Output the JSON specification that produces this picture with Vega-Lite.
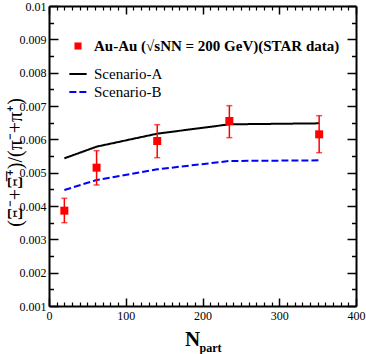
{
  "$schema": "https://vega.github.io/schema/vega-lite/v6.json",
  "width": 307,
  "height": 300,
  "autosize": {"type": "none"},
  "padding": {"left": 49, "top": 6, "right": 10, "bottom": 48},
  "background": "white",
  "config": {
    "view": {"stroke": null},
    "font": "Liberation Serif",
    "legend": {"labelFont": "Liberation Serif", "padding": 0},
    "axis": {
      "grid": false,
      "domainColor": "black",
      "tickColor": "black",
      "labelColor": "black",
      "titleColor": "black",
      "labelFont": "Liberation Serif",
      "titleFont": "Liberation Serif",
      "domainWidth": 2,
      "tickWidth": 1.5,
      "labelFlush": false,
      "labelOverlap": false
    }
  },
  "datasets": {
    "star": [
      {"npart": 20, "ratio": 0.00386, "lo": 0.00350, "hi": 0.00423, "series": "Au-Au (√sNN = 200 GeV)(STAR data)"},
      {"npart": 62, "ratio": 0.00515, "lo": 0.00463, "hi": 0.00566, "series": "Au-Au (√sNN = 200 GeV)(STAR data)"},
      {"npart": 141, "ratio": 0.00595, "lo": 0.00545, "hi": 0.00644, "series": "Au-Au (√sNN = 200 GeV)(STAR data)"},
      {"npart": 235, "ratio": 0.00655, "lo": 0.00605, "hi": 0.00701, "series": "Au-Au (√sNN = 200 GeV)(STAR data)"},
      {"npart": 352, "ratio": 0.00615, "lo": 0.00560, "hi": 0.00671, "series": "Au-Au (√sNN = 200 GeV)(STAR data)"}
    ],
    "scenA": [
      {"npart": 20, "ratio": 0.00543, "scenario": "Scenario-A"},
      {"npart": 62, "ratio": 0.00578, "scenario": "Scenario-A"},
      {"npart": 141, "ratio": 0.00617, "scenario": "Scenario-A"},
      {"npart": 235, "ratio": 0.00645, "scenario": "Scenario-A"},
      {"npart": 352, "ratio": 0.00648, "scenario": "Scenario-A"}
    ],
    "scenB": [
      {"npart": 20, "ratio": 0.00448, "scenario": "Scenario-B"},
      {"npart": 62, "ratio": 0.00478, "scenario": "Scenario-B"},
      {"npart": 141, "ratio": 0.00510, "scenario": "Scenario-B"},
      {"npart": 235, "ratio": 0.00535, "scenario": "Scenario-B"},
      {"npart": 352, "ratio": 0.00537, "scenario": "Scenario-B"}
    ]
  },
  "layer": [
    {
      "data": {"name": "scenA"},
      "mark": {"type": "line", "strokeWidth": 2},
      "encoding": {
        "x": {"field": "npart", "type": "quantitative",
          "scale": {"domain": [0, 400], "nice": false, "zero": false},
          "axis": {"orient": "bottom", "values": [10,20,30,40,50,60,70,80,90,110,120,130,140,150,160,170,180,190,210,220,230,240,250,260,270,280,290,310,320,330,340,350,360,370,380,390],
            "domain": false, "labels": false, "tickSize": -4, "tickWidth": 1.2,
            "title": "part", "titleFont": "Liberation Serif", "titleFontSize": 12, "titleFontWeight": "bold", "titleAlign": "left", "titleBaseline": "alphabetic", "titleX": 150, "titleY": 45}},
        "y": {"field": "ratio", "type": "quantitative",
          "scale": {"domain": [0.001, 0.01], "nice": false, "zero": false},
          "axis": {"orient": "left", "values": [0.0015,0.0025,0.0035,0.0045,0.0055,0.0065,0.0075,0.0085,0.0095],
            "domain": false, "labels": false, "tickSize": -4.5, "tickWidth": 1.5, "title": null}},
        "stroke": {"field": "scenario", "type": "nominal",
          "scale": {"domain": ["Scenario-A", "Scenario-B"], "range": ["#000000", "#0000ff"]},
          "legend": {"orient": "none", "legendX": 19, "legendY": 58, "title": null,
            "labelFont": "Liberation Serif", "labelFontSize": 15, "labelColor": "black", "labelOffset": 6,
            "rowPadding": 0, "symbolSize": 300, "symbolStrokeWidth": 2}},
        "strokeDash": {"field": "scenario", "type": "nominal",
          "scale": {"domain": ["Scenario-A", "Scenario-B"], "range": [[1, 0], [7, 3]]},
          "legend": {"orient": "none", "legendX": 19, "legendY": 58, "title": null,
            "labelFont": "Liberation Serif", "labelFontSize": 15, "labelColor": "black", "labelOffset": 6,
            "rowPadding": 0, "symbolSize": 300, "symbolStrokeWidth": 2}}
      }
    },
    {
      "data": {"name": "scenB"},
      "mark": {"type": "line", "strokeWidth": 2},
      "encoding": {
        "x": {"field": "npart", "type": "quantitative",
          "scale": {"domain": [0, 400], "nice": false, "zero": false},
          "axis": {"orient": "top", "values": [10,20,30,40,50,60,70,80,90,110,120,130,140,150,160,170,180,190,210,220,230,240,250,260,270,280,290,310,320,330,340,350,360,370,380,390],
            "domain": false, "labels": false, "tickSize": -4, "tickWidth": 1.2, "title": null}},
        "y": {"field": "ratio", "type": "quantitative",
          "scale": {"domain": [0.001, 0.01], "nice": false, "zero": false},
          "axis": {"orient": "right", "values": [0.0015,0.0025,0.0035,0.0045,0.0055,0.0065,0.0075,0.0085,0.0095],
            "domain": false, "labels": false, "tickSize": -4.5, "tickWidth": 1.5, "title": null}},
        "stroke": {"field": "scenario", "type": "nominal",
          "scale": {"domain": ["Scenario-A", "Scenario-B"], "range": ["#000000", "#0000ff"]},
          "legend": {"orient": "none", "legendX": 19, "legendY": 58, "title": null,
            "labelFont": "Liberation Serif", "labelFontSize": 15, "labelColor": "black", "labelOffset": 6,
            "rowPadding": 0, "symbolSize": 300, "symbolStrokeWidth": 2}},
        "strokeDash": {"field": "scenario", "type": "nominal",
          "scale": {"domain": ["Scenario-A", "Scenario-B"], "range": [[1, 0], [7, 3]]},
          "legend": {"orient": "none", "legendX": 19, "legendY": 58, "title": null,
            "labelFont": "Liberation Serif", "labelFontSize": 15, "labelColor": "black", "labelOffset": 6,
            "rowPadding": 0, "symbolSize": 300, "symbolStrokeWidth": 2}}
      }
    },
    {
      "data": {"name": "star"},
      "mark": {"type": "errorbar", "ticks": true, "color": "#ff0000", "thickness": 1.5, "size": 6},
      "encoding": {
        "x": {"field": "npart", "type": "quantitative",
          "scale": {"domain": [0, 400], "nice": false, "zero": false},
          "axis": {"orient": "top", "values": [0, 100, 200, 300, 400], "domain": true, "labels": false, "tickSize": -8, "title": null}},
        "y": {"field": "lo", "type": "quantitative",
          "scale": {"domain": [0.001, 0.01], "nice": false, "zero": false},
          "axis": {"orient": "right", "values": [0.001,0.002,0.003,0.004,0.005,0.006,0.007,0.008,0.009,0.01], "domain": true, "labels": false, "tickSize": -9, "title": null}},
        "y2": {"field": "hi"}
      }
    },
    {
      "data": {"name": "star"},
      "mark": {"type": "point", "shape": "square", "filled": true, "size": 64, "opacity": 1, "strokeWidth": 0},
      "encoding": {
        "x": {"field": "npart", "type": "quantitative",
          "scale": {"domain": [0, 400], "nice": false, "zero": false},
          "axis": {"orient": "bottom", "values": [0, 100, 200, 300, 400], "domain": true, "labels": true, "tickSize": -8,
            "labelPadding": 12, "labelFont": "Liberation Serif", "labelFontSize": 12,
            "title": "N", "titleFont": "Liberation Serif", "titleFontSize": 21, "titleFontWeight": "bold", "titleAlign": "center", "titleBaseline": "alphabetic", "titleX": 143, "titleY": 39}},
        "y": {"field": "ratio", "type": "quantitative",
          "scale": {"domain": [0.001, 0.01], "nice": false, "zero": false},
          "axis": {"orient": "left", "values": [0.001,0.002,0.003,0.004,0.005,0.006,0.007,0.008,0.009,0.01], "domain": true, "labels": true, "tickSize": -9,
            "labelPadding": 12, "labelFont": "Liberation Serif", "labelFontSize": 12, "format": "~g",
            "title": "(Ξ⁻+Ξ̅⁺)/(π⁻+π⁺)", "titleFont": "Liberation Serif", "titleFontSize": 20, "titleFontWeight": "normal", "titleAngle": -90, "titleAlign": "center", "titleBaseline": "middle", "titleX": -34, "titleY": 156}},
        "fill": {"field": "series", "type": "nominal",
          "scale": {"range": ["#ff0000"]},
          "legend": {
            "orient": "none", "legendX": 21.5, "legendY": 32.5, "title": null,
            "labelFont": "Liberation Serif", "labelFontSize": 15, "labelFontWeight": "bold", "labelColor": "black", "labelLimit": 400, "labelOffset": 8.5,
            "symbolSize": 50, "symbolType": "square", "symbolStrokeWidth": 0}}
      }
    }
  ],
  "resolve": {"axis": {"x": "independent", "y": "independent"}}
}
